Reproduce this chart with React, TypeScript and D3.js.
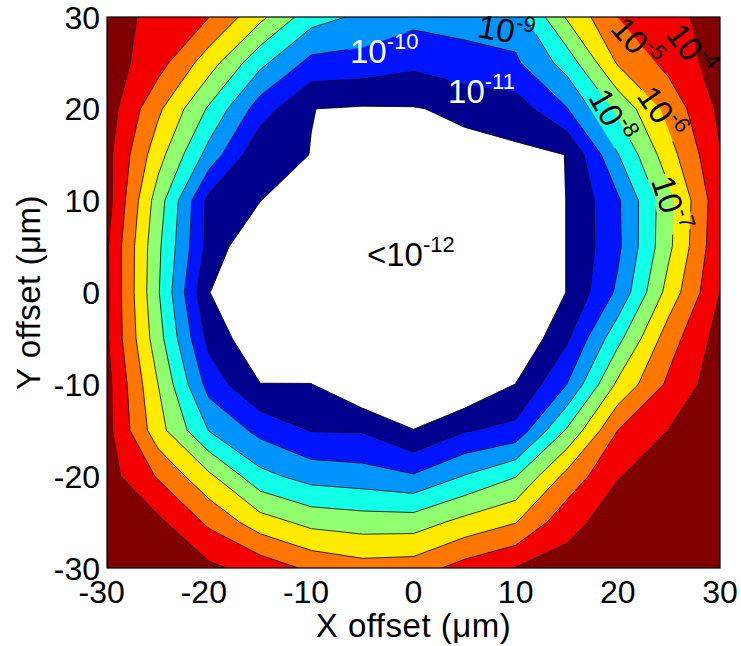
import React from 'react';
import * as d3 from 'd3';

// grid coordinates (µm)
const xGrid = [-30, -25, -20, -15, -10, -5, 0, 5, 10, 15, 20, 25, 30];
const yGrid = [30, 25, 20, 15, 10, 5, 0, -5, -10, -15, -20, -25, -30];

// log10 of the measured quantity, one row per Y offset (x from -30 to 30)
const rowY30 = [-3.3, -4.5, -5.0, -6.75, -8.6, -9.2, -9.7, -9.7, -9.5, -6.9, -5.0, -4.5, -3.3];
const rowY25 = [-3.5, -4.6, -6.55, -8.75, -10.3, -10.4, -10.76, -10.3, -10.15, -8.6, -5.9, -4.7, -3.5];
const rowY20 = [-3.5, -5.8, -8.15, -10.5, -11.99, -12.1, -12.06, -11.8, -11.5, -10.05, -7.75, -5.65, -3.8];
const rowY15 = [-3.7, -6.6, -9.4, -11.8, -12.01, -13, -13, -12.3, -12.2, -11.99, -9.05, -6.4, -4.05];
const rowY10 = [-3.6, -7.5, -11.3, -11.98, -13, -13, -13, -13, -13, -11.98, -10.15, -7.3, -4.3];
const rowY5 = [-3.9, -7.8, -11.36, -13, -13, -13, -13, -13, -13, -11.98, -10.2, -7.2, -4.2];
const rowY0 = [-3.85, -7.9, -11.98, -13, -13, -13, -13, -13, -13, -11.98, -9.8, -6.6, -3.98];
const rowYm5 = [-3.9, -7.6, -11.3, -12.85, -13, -13, -13, -13, -13, -11.15, -8.3, -5.45, -3.6];
const rowYm10 = [-3.7, -7.0, -10.4, -11.98, -11.98, -13, -13, -13, -11.98, -10.0, -6.8, -4.8, -3.4];
const rowYm15 = [-3.7, -6.6, -9.05, -10.3, -11.05, -11.08, -11.98, -11.08, -10.7, -7.9, -5.0, -3.98, -3.2];
const rowYm20 = [-3.6, -5.1, -6.8, -8.7, -9.4, -9.57, -9.9, -8.95, -8.05, -5.7, -4.05, -3.5, -3.0];
const rowYm25 = [-3.0, -3.8, -5.2, -6.55, -7.3, -7.5, -7.5, -6.7, -6.05, -4.35, -3.5, -3.0, -2.6];
const rowYm30 = [-2.5, -3.2, -3.8, -4.4, -5.2, -5.6, -5.5, -4.6, -3.97, -3.6, -3.0, -2.5, -2.0];

// contour levels (log10) and their fill colours
const levels = [-12, -11, -10, -9, -8, -7, -6, -5, -4];
const levelColors = ['#00008F', '#0014FF', '#0094FF', '#12FFE8', '#8FFF6F', '#FFEB00', '#FF7700', '#F50000', '#800000'];

const xTicks = [-30, -20, -10, 0, 10, 20, 30];
const yTicks = [30, 20, 10, 0, -10, -20, -30];

// contour labels: level, location (µm), angle
const labelLevels = [-10, -11, -9, -5, -4, -8, -6, -7];
const labelX = [-6.22, 3.38, 9.05, 21.78, 27.1, 19.33, 24.22, 25.1];
const labelY = [24.99, 20.63, 28.48, 27.17, 26.4, 19.22, 19.55, 9.64];
const labelAngle = [0, 0, 10, 48, 52, 60, 55, 72];
const lowLabelX = -4.55;
const lowLabelY = 2.88;

const FONT = '"Liberation Sans", Arial, Helvetica, sans-serif';

export default function App() {
  const W = 741;
  const H = 646;
  const x = d3.scaleLinear().domain([-30, 30]).range([107, 720]);
  const y = d3.scaleLinear().domain([-30, 30]).range([568, 17]);

  const rows = [rowY30, rowY25, rowY20, rowY15, rowY10, rowY5, rowY0, rowYm5, rowYm10, rowYm15, rowYm20, rowYm25, rowYm30];
  const values = rows.flat();
  const nx = xGrid.length;
  const ny = yGrid.length;
  const contours = d3.contours().size([nx, ny]).thresholds(levels)(values);

  const gdx = xGrid[1] - xGrid[0];
  const gdy = yGrid[1] - yGrid[0];
  const proj = d3.geoTransform({
    point: function (px: number, py: number) {
      const gx = xGrid[0] + (px - 0.5) * gdx;
      const gy = yGrid[0] + (py - 0.5) * gdy;
      (this as any).stream.point(x(gx), y(gy));
    },
  });
  const path = d3.geoPath(proj as any);

  const x0 = x(-30), x1 = x(30), y0 = y(30), y1 = y(-30);
  const fs = 32;
  const lfs = 33;
  const supFs = 22;
  const digitHalf = 0.278 * fs;

  const expWidth = (lev: number, prefix = '') =>
    (prefix.length * 0.584 + 2 * 0.556) * lfs + (0.333 + String(Math.abs(lev)).length * 0.556) * supFs;

  const renderExp = (lev: number, prefix = '') => (
    <>
      <tspan>{prefix + '10'}</tspan>
      <tspan dy={-14} fontSize={supFs}>{'-' + Math.abs(lev)}</tspan>
    </>
  );

  const paths = contours.map((c) => path(c as any) || '');

  return (
    <svg width={W} height={H} style={{ position: 'absolute', left: 0, top: 0, background: '#fff' }} fontFamily={FONT}>
      <defs>
        <clipPath id="plotClip">
          <rect x={x0} y={y0} width={x1 - x0} height={y1 - y0} />
        </clipPath>
        <mask id="labelGaps" maskUnits="userSpaceOnUse" x={0} y={0} width={W} height={H}>
          <rect x={0} y={0} width={W} height={H} fill="#fff" />
          {labelLevels.map((lev, i) => {
            const cx = x(labelX[i]);
            const cy = y(labelY[i]);
            const w = expWidth(lev) + 4;
            if (labelAngle[i] === 0) {
              return <rect key={'m' + i} x={cx - 2} y={cy - 31} width={w} height={35} fill="#000" />;
            }
            return (
              <rect key={'m' + i} transform={`translate(${cx},${cy}) rotate(${labelAngle[i]})`} x={-w / 2} y={-17} width={w} height={32} fill="#000" />
            );
          })}
        </mask>
      </defs>
      <rect x={0} y={0} width={W} height={H} fill="#fff" />
      <g clipPath="url(#plotClip)">
        <rect x={x0} y={y0} width={x1 - x0} height={y1 - y0} fill="#fff" />
        {paths.map((d, i) => (
          <path key={'f' + i} d={d} fill={levelColors[i]} stroke={levelColors[i]} strokeWidth={0.3} />
        ))}
        <g mask="url(#labelGaps)">
          {paths.map((d, i) => (
            <path key={'s' + i} d={d} fill="none" stroke="#000" strokeWidth={0.8} strokeLinejoin="round" />
          ))}
        </g>
      </g>
      {labelLevels.map((lev, i) => {
        const cx = x(labelX[i]);
        const cy = y(labelY[i]);
        const white = lev <= -10;
        if (labelAngle[i] === 0) {
          return (
            <text key={'l' + i} x={cx} y={cy} fontSize={lfs} fill={white ? '#fff' : '#000'} textAnchor="start">
              {renderExp(lev)}
            </text>
          );
        }
        return (
          <text key={'l' + i} transform={`translate(${cx},${cy}) rotate(${labelAngle[i]})`} x={0} y={11} fontSize={lfs} fill="#000" textAnchor="middle">
            {renderExp(lev)}
          </text>
        );
      })}
      <text x={x(lowLabelX)} y={y(lowLabelY)} fontSize={lfs} fill="#000">
        {renderExp(-12, '<')}
      </text>
      <rect x={x0} y={y0} width={x1 - x0} height={y1 - y0} fill="none" stroke="#000" strokeWidth={1.2} />
      {xTicks.map((t) => {
        const nd = String(Math.abs(t)).length;
        return (
          <text key={'xt' + t} x={x(t) + nd * digitHalf} y={603} fontSize={fs} textAnchor="end" fill="#000">
            {String(t)}
          </text>
        );
      })}
      {yTicks.map((t) => (
        <text key={'yt' + t} x={100} y={y(t) + 11.5} fontSize={fs} textAnchor="end" fill="#000">
          {String(t)}
        </text>
      ))}
      <text x={(x0 + x1) / 2} y={637} fontSize={33} letterSpacing={0.5} textAnchor="middle" fill="#000">X offset (μm)</text>
      <text transform={`translate(40,${(y0 + y1) / 2}) rotate(-90)`} fontSize={33} letterSpacing={0.5} textAnchor="middle" fill="#000">Y offset (μm)</text>
    </svg>
  );
}
